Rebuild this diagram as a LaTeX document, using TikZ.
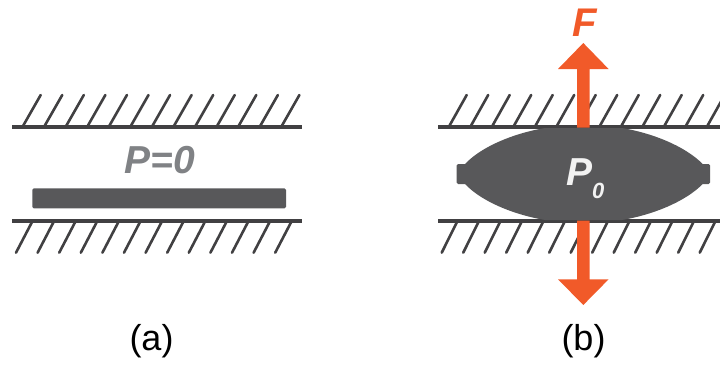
\documentclass[tikz,border=0pt]{standalone}
\usepackage{fontspec}
\setmainfont{Liberation Sans}
\definecolor{blobgray}{HTML}{58585A}
\definecolor{linegray}{HTML}{414042}
\definecolor{labelgray}{HTML}{808285}
\definecolor{forceorange}{HTML}{F15A29}
\tikzset{
  wall/.style={draw=linegray,line width=3.6pt},
  hatch/.style={draw=linegray,line width=2.6pt,line cap=round},
  force/.style={fill=forceorange,draw=none},
  body/.style={fill=blobgray,draw=none},
  bigtxt/.style={font=\fontsize{39}{39}\selectfont\bfseries\itshape,inner sep=0pt,anchor=base west},
  captxt/.style={font=\fontsize{36}{36}\selectfont,inner sep=0pt,text=black}
}
\begin{document}
\begin{tikzpicture}[x=1pt,y=-1pt]
\useasboundingbox (0,0) rectangle (720,367);
\clip (0,0) rectangle (720,367);
% left
\foreach \k in {0,...,12}{
  \draw[hatch] ({23+21.56*\k},126) -- ({40.7+21.56*\k},95);
  \draw[hatch] ({32+21.6*\k},222) -- ({16+21.6*\k},252.7);
}
\draw[wall] (12,126.7) -- (302,126.7);
\draw[wall] (12,221) -- (302,221);
\fill[body,rounded corners=1.5pt] (32.3,188.3) rectangle (286,208.3);
\node[bigtxt,text=labelgray] (pzero) at (124.5,173) {P=0};
% right
\foreach \k in {0,...,13}{
  \draw[hatch] ({449.3+21.5*\k},126) -- ({466.7+21.5*\k},95);
  \draw[hatch] ({457+21.5*\k},222) -- ({441.7+21.5*\k},252.7);
}
\draw[wall] (438,126.7) -- (720,126.7);
\draw[wall] (438,221) -- (720,221);
\fill[body,rounded corners=1.5pt] (456.7,164) rectangle (710,184);
\fill[body] (465,164) .. controls (482,146) and (515,133) .. (545,128)
  -- (622,128) .. controls (652,133) and (685,146) .. (702.7,164)
  -- (702.7,184) .. controls (685,202) and (652,215) .. (622,220)
  -- (545,220) .. controls (515,215) and (482,202) .. (465,184) -- cycle;
\fill[force] (583.3,43) -- (608.6,69) -- (589.6,69) -- (589.6,127.5) -- (577,127.5) -- (577,69) -- (558,69) -- cycle;
\fill[force] (583.3,305) -- (608.6,279.3) -- (589.6,279.3) -- (589.6,220.5) -- (577,220.5) -- (577,279.3) -- (558,279.3) -- cycle;
\node[bigtxt,text=forceorange,font=\fontsize{40}{40}\selectfont\bfseries\itshape] (force) at (572,36) {F};
\node[bigtxt,text=white!95!black] (pnaught) at (566.5,185) {P};
\node[bigtxt,text=white!95!black,font=\fontsize{22}{22}\selectfont\bfseries\itshape] (sub) at (592,198.7) {0};
% captions
\node[captxt] (capa) at (151.5,341) {(a)};
\node[captxt] (capb) at (583.5,341) {(b)};
\end{tikzpicture}
\end{document}
